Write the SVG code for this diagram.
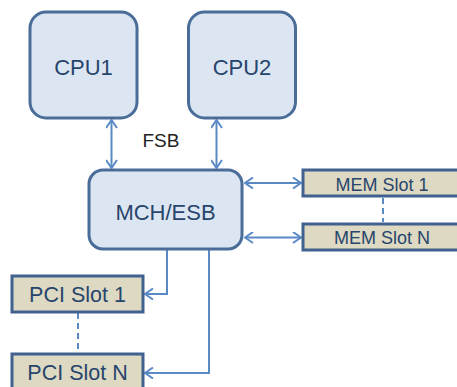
<svg xmlns="http://www.w3.org/2000/svg" width="457" height="387" viewBox="0 0 457 387">
<style>
.node{fill:#dce6f2;stroke:#4a6c98;stroke-width:3}
.slot{fill:#ddd9c3;stroke:#41618f;stroke-width:3}
.t{font-family:"Liberation Sans",Arial,sans-serif;fill:#27456c;text-anchor:middle}
.c{fill:none;stroke:#5a8ac6;stroke-width:2}
.d{fill:none;stroke:#5a8ac6;stroke-width:2;stroke-dasharray:6,4}
</style>
<defs>
<marker id="ah" viewBox="0 0 10 12" refX="9" refY="6" markerWidth="10" markerHeight="12" markerUnits="userSpaceOnUse" orient="auto-start-reverse">
<path d="M1,0.5 L9,6 L1,11.5" fill="none" stroke="#5a8ac6" stroke-width="2"/>
</marker>
</defs>
<rect width="457" height="387" fill="#ffffff"/>
<g id="connectors">
<line class="c" x1="111.5" y1="120" x2="111.5" y2="168" marker-start="url(#ah)" marker-end="url(#ah)"/>
<line class="c" x1="216.5" y1="120" x2="216.5" y2="168" marker-start="url(#ah)" marker-end="url(#ah)"/>
<line class="c" x1="245" y1="183" x2="301" y2="183" marker-start="url(#ah)" marker-end="url(#ah)"/>
<line class="c" x1="245" y1="237.5" x2="301" y2="237.5" marker-start="url(#ah)" marker-end="url(#ah)"/>
<polyline class="c" points="167,250 167,294 145,294" marker-end="url(#ah)"/>
<polyline class="c" points="209,250 209,373 145,373" marker-end="url(#ah)"/>
<line class="d" x1="383" y1="198" x2="383" y2="222"/>
<line class="d" x1="78" y1="313" x2="78" y2="353"/>
</g>
<g id="cpu1">
<rect class="node" x="30" y="12" width="107" height="106" rx="16"/>
<text class="t" x="83.5" y="75" font-size="22">CPU1</text>
</g>
<g id="cpu2">
<rect class="node" x="188.5" y="12" width="107" height="106" rx="16"/>
<text class="t" x="242" y="75" font-size="22">CPU2</text>
</g>
<g id="fsb">
<text x="161" y="147" font-size="19" font-family="Liberation Sans,Arial,sans-serif" fill="#222222" text-anchor="middle">FSB</text>
</g>
<g id="mch">
<rect class="node" x="89" y="170" width="153" height="79" rx="14"/>
<text class="t" x="165.5" y="220" font-size="22">MCH/ESB</text>
</g>
<g id="mem1">
<rect class="slot" x="303" y="170" width="158" height="26"/>
<text class="t" x="382" y="191" font-size="18">MEM Slot 1</text>
</g>
<g id="memN">
<rect class="slot" x="303" y="224" width="158" height="26"/>
<text class="t" x="382" y="244" font-size="18">MEM Slot N</text>
</g>
<g id="pci1">
<rect class="slot" x="12" y="276" width="131" height="36"/>
<text class="t" x="77.5" y="302" font-size="21.5">PCI Slot 1</text>
</g>
<g id="pciN">
<rect class="slot" x="12" y="354" width="131" height="40"/>
<text class="t" x="77.5" y="380" font-size="21.5">PCI Slot N</text>
</g>
</svg>
